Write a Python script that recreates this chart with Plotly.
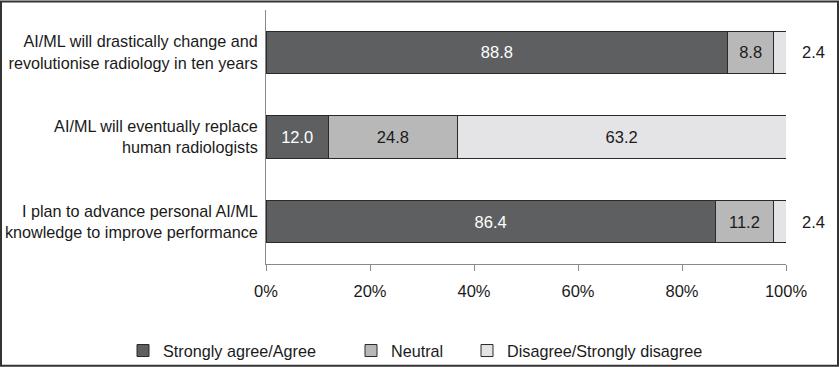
import plotly.graph_objects as go

categories = [
    "AI/ML will drastically change and<br>revolutionise radiology in ten years",
    "AI/ML will eventually replace<br>human radiologists",
    "I plan to advance personal AI/ML<br>knowledge to improve performance",
]
series_names = ["Strongly agree/Agree", "Neutral", "Disagree/Strongly disagree"]
agree = [88.8, 12.0, 86.4]
neutral = [8.8, 24.8, 11.2]
disagree = [2.4, 63.2, 2.4]
tick_vals = [0, 20, 40, 60, 80, 100]
tick_labels = ["0%", "20%", "40%", "60%", "80%", "100%"]

colors = ["#5e5f61", "#b8b8b8", "#e4e4e6"]
text_colors = ["white", "#1a1a1a", "#1a1a1a"]
legend_ids = ["legend", "legend2", "legend3"]
legend_px = [142, 370, 486]  # left edge of each legend swatch in the picture
FONT = "Liberation Sans, Arial, sans-serif"

fig = go.Figure()
for name, vals, col, tcol, lg in zip(series_names, [agree, neutral, disagree], colors, text_colors, legend_ids):
    texts = [f"{v:.1f}" if v >= 5 else "" for v in vals]
    fig.add_trace(go.Bar(
        y=categories, x=vals, name=name, orientation="h",
        marker=dict(color=col, line=dict(color="#2a2a2a", width=1)),
        text=texts, textposition="inside", insidetextanchor="middle",
        textangle=0, textfont=dict(size=16.5, color=tcol, family=FONT),
        width=0.5, hoverinfo="x+y", legend=lg,
    ))

# labels for the small disagree segments placed just beyond 100%
for cat, v in zip(categories, disagree):
    if v < 5:
        fig.add_annotation(x=100, y=cat, xref="x", yref="y", text=f"{v:.1f}",
                           showarrow=False, xanchor="left", xshift=14,
                           font=dict(size=16.5, color="#1a1a1a", family=FONT))

# outer border
fig.add_shape(type="rect", xref="paper", yref="paper",
              x0=(1 - 266) / 520, x1=(838 - 266) / 520,
              y0=(264 - 366) / 254.5, y1=(264 - 1) / 254.5,
              line=dict(color="#333333", width=2), fillcolor="rgba(0,0,0,0)", layer="below")

legend_layout = {}
for lg, px in zip(legend_ids, legend_px):
    legend_layout[lg] = dict(orientation="h", xref="container", x=(px - 19) / 839, xanchor="left",
                             yref="container", y=16 / 367, yanchor="middle",
                             font=dict(size=16.2), itemwidth=30, bgcolor="rgba(0,0,0,0)")

fig.update_layout(
    width=839, height=367,
    margin=dict(l=266, r=53, t=10, b=103, autoexpand=False),
    barmode="stack",
    plot_bgcolor="white", paper_bgcolor="white",
    font=dict(family=FONT, size=16, color="#1a1a1a"),
    xaxis=dict(range=[0, 100], tickvals=tick_vals, ticktext=tick_labels,
               showgrid=False, zeroline=False, showline=True, linecolor="#8a8a8a",
               linewidth=1, ticks="outside", ticklen=6, tickcolor="#8a8a8a",
               ticklabelstandoff=6, tickfont=dict(size=16.5), fixedrange=True,
               automargin=False),
    yaxis=dict(autorange="reversed", showgrid=False, zeroline=False, showline=True,
               linecolor="#8a8a8a", linewidth=1, ticks="", ticklabelstandoff=4,
               tickfont=dict(size=16.2), automargin=False),
    showlegend=True,
    **legend_layout,
)

fig.write_html("out.html", config={"displayModeBar": False},
               post_script="document.body.style.margin='0';document.body.style.overflow='hidden';")
